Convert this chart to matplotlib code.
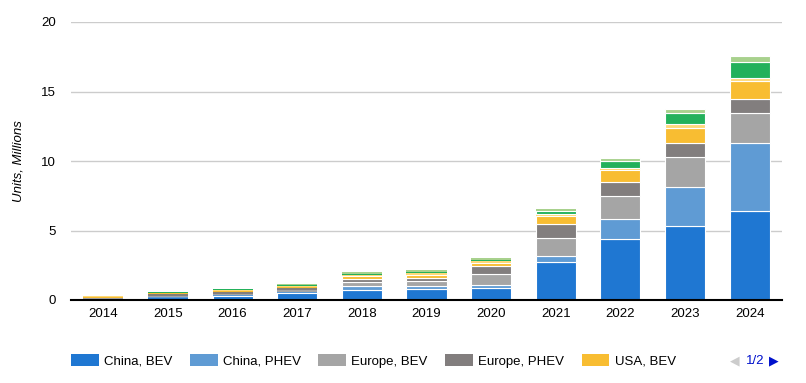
import matplotlib.pyplot as plt
import numpy as np

years = ["2014", "2015", "2016", "2017", "2018", "2019", "2020", "2021", "2022", "2023", "2024"]

series_names = ["China, BEV", "China, PHEV", "Europe, BEV", "Europe, PHEV",
                "USA, BEV", "USA, PHEV", "Other, BEV", "Other, PHEV"]

china_bev = [0.05, 0.15, 0.26, 0.48, 0.74, 0.80, 0.89, 2.71, 4.37, 5.35, 6.38]
china_phev = [0.02, 0.06, 0.08, 0.10, 0.27, 0.23, 0.21, 0.48, 1.48, 2.76, 4.94]
europe_bev = [0.05, 0.10, 0.12, 0.12, 0.26, 0.36, 0.75, 1.25, 1.65, 2.20, 2.15]
europe_phev = [0.04, 0.09, 0.10, 0.16, 0.22, 0.21, 0.62, 1.05, 1.01, 1.01, 1.01]
usa_bev = [0.06, 0.07, 0.09, 0.10, 0.24, 0.22, 0.21, 0.53, 0.82, 1.08, 1.25]
usa_phev = [0.05, 0.04, 0.07, 0.07, 0.09, 0.10, 0.10, 0.15, 0.17, 0.28, 0.24]
other_bev = [0.03, 0.03, 0.04, 0.05, 0.07, 0.09, 0.10, 0.25, 0.52, 0.79, 1.18]
other_phev = [0.02, 0.03, 0.04, 0.09, 0.12, 0.15, 0.14, 0.15, 0.22, 0.27, 0.40]

colors = ["#1f77d2", "#5f9bd4", "#a5a5a5", "#827e7e",
          "#f8bd32", "#fed97a", "#23b15b", "#a8d18d"]

series = [china_bev, china_phev, europe_bev, europe_phev,
          usa_bev, usa_phev, other_bev, other_phev]

fig = plt.figure(figsize=(8.06, 3.83), dpi=100)
ax = fig.add_axes([71 / 806, 83 / 383, 711 / 806, 278 / 383])
plt.rcParams["font.family"] = ["Liberation Sans", "DejaVu Sans"]

x = np.arange(len(years))
bottom = np.zeros(len(years))
handles = []
for name, vals, col in zip(series_names, series, colors):
    # thin white separators only where a segment is tall enough to carry them
    lw = [0.8 if v > 0.2 else 0.0 for v in vals]
    b = ax.bar(x, vals, 0.62, bottom=bottom, color=col, edgecolor="white",
               linewidth=lw, label=name, zorder=3)
    handles.append(b)
    bottom += np.array(vals)

ax.set_xlim(-0.5, len(years) - 0.5)
ax.set_ylim(0, 20)
ax.set_yticks([0, 5, 10, 15, 20])
ax.set_xticks(x)
ax.set_xticklabels(years, fontsize=9.5, family="Liberation Sans")
ax.tick_params(axis="y", labelsize=9.5, length=0, pad=11)
ax.tick_params(axis="x", length=0, pad=6)
for lbl in ax.get_yticklabels():
    lbl.set_family("Liberation Sans")
ax.grid(axis="y", color="#cccccc", linewidth=1, zorder=0)
for side in ["top", "right", "left"]:
    ax.spines[side].set_visible(False)
ax.spines["bottom"].set_color("black")
ax.spines["bottom"].set_linewidth(1.5)
ax.spines["bottom"].set_zorder(4)

ax.set_ylabel("Units, Millions", fontsize=9.5, style="italic",
              family="Liberation Sans", labelpad=12)

fig.legend(handles[:5], series_names[:5], loc="center left",
           bbox_to_anchor=(66 / 806, 22 / 383), ncol=5, frameon=False,
           handlelength=2.1, handleheight=0.95,
           handletextpad=0.4, columnspacing=1.32, borderaxespad=0,
           prop={"family": "Liberation Sans", "size": 9.5})

fig.text(735 / 806, 22 / 383, "\u25c0", color="#cccccc", fontsize=9,
         ha="center", va="center", family="DejaVu Sans")
fig.text(755 / 806, 22 / 383, "1/2", color="#0011cc", fontsize=9.5,
         ha="center", va="center", family="Liberation Sans")
fig.text(774 / 806, 22 / 383, "\u25b6", color="#0011cc", fontsize=9,
         ha="center", va="center", family="DejaVu Sans")

fig.savefig("out.png", dpi=100)
